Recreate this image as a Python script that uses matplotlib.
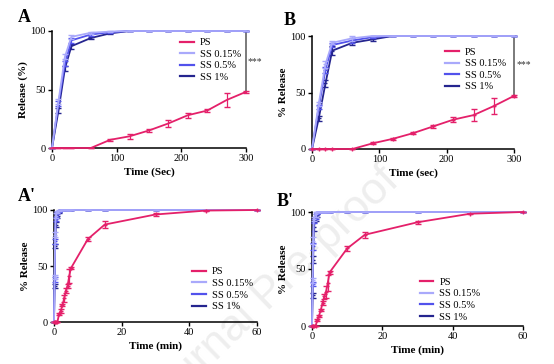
import numpy as np
import matplotlib
matplotlib.use("Agg")
import matplotlib.pyplot as plt

plt.rcParams['font.family'] = ['Liberation Serif', 'DejaVu Serif']

# ---------------- data ----------------
t_sec = [0, 10, 20, 30, 60, 90, 120, 150, 180, 210, 240, 270, 300]
t_extra_min = [10, 15, 30, 45, 60]
series_names = ["PS", "SS 0.15%", "SS 0.5%", "SS 1%"]

# Panel A (seconds)
A_ps = [0, 0, 0, 0, 0, 7, 10, 15, 21, 28, 32, 41, 48]
A_ps_err = [0, 0, 0, 0, 0, 1, 2, 1, 3, 2, 1.5, 6, 1]
A_ss015 = [0, 40, 78, 95, 98.5, 99.5, 100, 100, 100, 100, 100, 100, 100]
A_ss015_err = [0, 2, 2, 2, 1, 0.5, 0, 0, 0, 0, 0, 0, 0]
A_ss05 = [0, 38, 72, 92, 97, 99, 100, 100, 100, 100, 100, 100, 100]
A_ss05_err = [0, 2, 2, 2, 1, 0.5, 0, 0, 0, 0, 0, 0, 0]
A_ss1 = [0, 32, 68, 87, 94, 98, 100, 100, 100, 100, 100, 100, 100]
A_ss1_err = [0, 2, 2, 2, 1, 0.5, 0, 0, 0, 0, 0, 0, 0]

# Panel B (seconds)
B_ps = [0, 0, 0, 0, 0, 5, 9, 14, 20, 26, 30, 38, 47]
B_ps_err = [0, 0, 0, 0, 0, 1, 1, 1, 1.5, 2.5, 5, 7, 1]
B_ss015 = [0, 40, 75, 94, 98, 100, 100, 100, 100, 100, 100, 100, 100]
B_ss015_err = [0, 2, 3, 1.5, 2, 0, 0, 0, 0, 0, 0, 0, 0]
B_ss05 = [0, 37, 70, 92, 96, 99, 100, 100, 100, 100, 100, 100, 100]
B_ss05_err = [0, 2, 3, 1.5, 2, 0.5, 0, 0, 0, 0, 0, 0, 0]
B_ss1 = [0, 27, 58, 87, 94, 97, 100, 100, 100, 100, 100, 100, 100]
B_ss1_err = [0, 2, 3, 4, 2, 1, 0, 0, 0, 0, 0, 0, 0]

# Extended PS values (minutes) for A' and B'
Ap_ps_extra = [74, 87, 96, 99.5, 100]
Ap_ps_extra_err = [2, 3, 1.5, 0.5, 0]
Bp_ps_extra = [68, 80, 91, 98.5, 100]
Bp_ps_extra_err = [2, 2.5, 1.5, 0.5, 0]
ss_extra = [100, 100, 100, 100, 100]
ss_extra_err = [0, 0, 0, 0, 0]

colors = ['#e4206a', '#a9a9fb', '#5252ec', '#25258f']

# ---------------- figure ----------------
fig = plt.figure(figsize=(5.54, 3.64), dpi=100)

def fx(px):
    return px / 554.0

def fy(py):
    return 1 - py / 364.0

# watermark (behind everything)
fig.text(fx(401), fy(183), 'Journal Pre-proof', fontsize=32, color='#eeeeee',
         family='Liberation Sans', rotation=44, rotation_mode='anchor',
         ha='right', va='baseline', zorder=-5)

def make_ax(l, t, r, b):
    return fig.add_axes([fx(l), fy(b), fx(r) - fx(l), fy(t) - fy(b)])

axA = make_ax(52, 31, 246, 148)
axB = make_ax(312, 36, 514, 149)
axAp = make_ax(54, 210, 257, 322)
axBp = make_ax(312, 212, 523, 326)

def style(ax, xmax, xticks, xlabel, ylabel):
    ax.set_xlim(0, xmax)
    ax.set_ylim(0, 100)
    ax.set_xticks(xticks)
    ax.set_yticks([0, 50, 100])
    for s in ['top', 'right']:
        ax.spines[s].set_visible(False)
    for s in ['left', 'bottom']:
        ax.spines[s].set_linewidth(1.1)
    ax.tick_params(direction='out', length=3, width=1, labelsize=7.5, pad=1.5)
    ax.set_xlabel(xlabel, fontsize=8, fontweight='bold', labelpad=3)
    ax.set_ylabel(ylabel, fontsize=8, fontweight='bold', labelpad=2)
    ax.patch.set_alpha(0)

def plot_series(ax, t, ys, errs, marker_ss, marker_ps, lw=1.3):
    order = [3, 2, 1, 0]
    hs = {}
    for k, i in enumerate(order):
        mk = marker_ps if i == 0 else marker_ss
        h = ax.errorbar(t, ys[i], yerr=errs[i], color=colors[i], lw=lw,
                        marker=mk, ms=3, mew=1, capsize=2, elinewidth=0.9,
                        capthick=0.9, clip_on=False, zorder=3 + 0.1 * k)
        hs[i] = h
    return [hs[i].lines[0] for i in range(4)]

# Panel A
plot_series(axA, t_sec, [A_ps, A_ss015, A_ss05, A_ss1],
            [A_ps_err, A_ss015_err, A_ss05_err, A_ss1_err], None, None)
style(axA, 300, [0, 100, 200, 300], 'Time (Sec)', 'Release (%)')
axA.plot([300, 300], [100, A_ps[-1]], color='#7a7a7a', lw=1.4, clip_on=False, zorder=2)
axA.text(303, 74, '***', fontsize=7, color='#333333', va='center', ha='left')

# Panel B
plot_series(axB, t_sec, [B_ps, B_ss015, B_ss05, B_ss1],
            [B_ps_err, B_ss015_err, B_ss05_err, B_ss1_err], '_', '+')
style(axB, 300, [0, 100, 200, 300], 'Time (sec)', '% Release')
axB.plot([300, 300], [100, B_ps[-1]], color='#7a7a7a', lw=1.4, clip_on=False, zorder=2)
axB.text(303, 75, '***', fontsize=7, color='#333333', va='center', ha='left')

# Panels A' and B' (minutes)
t_min = [v / 60.0 for v in t_sec] + t_extra_min
plot_series(axAp, t_min,
            [A_ps + Ap_ps_extra, A_ss015 + ss_extra, A_ss05 + ss_extra, A_ss1 + ss_extra],
            [A_ps_err + Ap_ps_extra_err, A_ss015_err + ss_extra_err,
             A_ss05_err + ss_extra_err, A_ss1_err + ss_extra_err], '_', '+')
style(axAp, 60, [0, 20, 40, 60], 'Time (min)', '% Release')

plot_series(axBp, t_min,
            [B_ps + Bp_ps_extra, B_ss015 + ss_extra, B_ss05 + ss_extra, B_ss1 + ss_extra],
            [B_ps_err + Bp_ps_extra_err, B_ss015_err + ss_extra_err,
             B_ss05_err + ss_extra_err, B_ss1_err + ss_extra_err], '_', '+')
style(axBp, 60, [0, 20, 40, 60], 'Time (min)', '% Release')

# legends
from matplotlib.lines import Line2D
leg_handles = [Line2D([0], [0], color=c, lw=1.6) for c in colors]

def add_legend(ax, x, y):
    ax.legend(leg_handles, series_names, loc='upper left', bbox_to_anchor=(x, y),
              frameon=False, fontsize=7.5, handlelength=1.3, handletextpad=0.6,
              labelspacing=0.22, borderpad=0, borderaxespad=0)

add_legend(axA, 0.66, 0.94)
add_legend(axB, 0.66, 0.90)
add_legend(axAp, 0.68, 0.49)
add_legend(axBp, 0.51, 0.425)

# panel letters
fig.text(fx(18), fy(22), 'A', fontsize=13, fontweight='bold')
fig.text(fx(284), fy(25), 'B', fontsize=13, fontweight='bold')
fig.text(fx(18), fy(201), "A'", fontsize=13, fontweight='bold')
fig.text(fx(277), fy(206), "B'", fontsize=13, fontweight='bold')

fig.savefig('out.png', dpi=100)
